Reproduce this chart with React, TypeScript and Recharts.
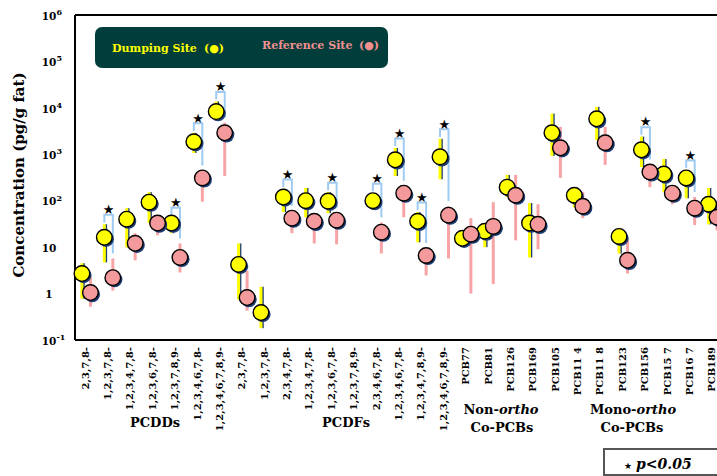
import { ComposedChart, Scatter, XAxis, YAxis, ErrorBar, ReferenceLine } from 'recharts'

const categories = [
  '2,3,7,8-', '1,2,3,7,8-', '1,2,3,4,7,8-', '1,2,3,6,7,8-', '1,2,3,7,8,9-', '1,2,3,4,6,7,8-', '1,2,3,4,6,7,8,9-',
  '2,3,7,8-', '1,2,3,7,8-', '2,3,4,7,8-', '1,2,3,4,7,8-', '1,2,3,6,7,8-', '1,2,3,7,8,9-', '2,3,4,6,7,8-',
  '1,2,3,4,6,7,8-', '1,2,3,4,7,8,9-', '1,2,3,4,6,7,8,9-',
  'PCB77', 'PCB81', 'PCB126', 'PCB169',
  'PCB105', 'PCB11 4', 'PCB11 8', 'PCB123', 'PCB156', 'PCB15 7', 'PCB16 7', 'PCB189'
]

// dumping site: mean and error range (pg/g fat)
const dumpingMean = [2.7, 16.3, 40, 93, 33, 1860, 8300, 4.25, 0.39, 120, 100, 98, null, 100, 760, 36, 880, 15.5, 22, 196, 33, 2900, 131, 5800, 17, 1250, 375, 310, 84]
const dumpingLow = [0.78, 4.7, 9.9, 33, 20, 1070, 6100, 0.74, 0.18, 57, 44, 54, null, 63, 340, 12.7, 290, 10, 10, 120, 6, 920, 72, 2000, 7.3, 530, 153, 113, 31]
const dumpingHigh = [4.5, 31, 69, 153, 44, 2900, 13700, 12, 1.4, 180, 188, 153, null, 145, 1370, 57, 2150, 22, 33, 360, 89, 7500, 188, 10500, 25, 2400, 790, 460, 188]

// reference site
const referenceMean = [1.05, 2.2, 12.1, 33, 6.0, 310, 2900, 0.82, null, 42, 36, 38, null, 21, 145, 6.6, 48.7, 19, 28, 131, 31, 1380, 76, 1770, 5.2, 415, 145, 69, 44]
const referenceLow = [0.52, 1.16, 5.2, 18, 2.85, 95, 340, 0.43, null, 20, 12, 11.5, null, 7.3, 44, 2.45, 5.7, 1.0, 1.6, 14, 9, 310, 42, 590, 2.7, 196, 84, 30, 23]
const referenceHigh = [2.33, 5.7, 20, 49, 12, 400, 4800, 3.1, null, 55, 50, 55, null, 34, 190, 9, 76, 42, 93, 360, 84, 3900, 153, 3900, 15, 550, 200, 120, 60]

// categories with p<0.05
const significant = [1, 4, 5, 6, 9, 11, 13, 14, 15, 16, 25, 27]

const yTicks = [0.1, 1, 10, 100, 1000, 10000, 100000, 1000000]
const yExp = ['-1', '', '', '2', '3', '4', '5', '6']

const SERIF = '"DejaVu Serif", serif'
const YELLOW = '#ffff00'
const PINK = '#f59a9c'
const PINK_BAR = '#f8a4a7'
const SHADOW = '#1f3d75'
const BRACKET = '#9fcbf3'
const SHIFT = 0.19

function points(mean: (number | null)[], low: (number | null)[], high: (number | null)[], dx: number) {
  return mean.flatMap((m, i) =>
    m == null ? [] : [{ x: i + dx, y: m, err: [m - (low[i] as number), (high[i] as number) - m] }]
  )
}

const dumpingPts = points(dumpingMean, dumpingLow, dumpingHigh, -SHIFT)
const dumpingShadowPts = points(dumpingMean, dumpingLow, dumpingHigh, -SHIFT + 0.08)
const referencePts = points(referenceMean, referenceLow, referenceHigh, SHIFT)

const brackets = significant.map((i) => {
  const top = (dumpingHigh[i] as number) * 1.6
  const left = (dumpingHigh[i] as number) * 1.1
  const right = Math.max(referenceHigh[i] as number, (referenceMean[i] as number) * 1.45) * 1.28
  return [
    { x: i - SHIFT, y: left },
    { x: i - SHIFT, y: top },
    { x: i + SHIFT, y: top },
    { x: i + SHIFT, y: right }
  ]
})
const stars = significant.map((i) => ({ x: i, y: (dumpingHigh[i] as number) * 1.6 * 1.3 }))

const None = () => <g />

const makeDot = (fill: string) => (props: any) => {
  const { cx, cy } = props
  return (
    <g>
      <circle cx={cx + 1.8} cy={cy + 1.8} r={7.8} fill={SHADOW} />
      <circle cx={cx} cy={cy} r={7.8} fill={fill} stroke="#000" strokeWidth={1.4} />
    </g>
  )
}

const Star = (props: any) => (
  <text x={props.cx} y={props.cy} textAnchor="middle" dominantBaseline="central" fontSize={13} fontFamily='"DejaVu Sans"'>
    ★
  </text>
)

const XTick = (props: any) => {
  const { x, y, payload } = props
  const tx = x + 2.5
  const ty = y - 1
  return (
    <text x={tx} y={ty} transform={`rotate(-90 ${tx} ${ty})`} textAnchor="end" fontFamily={SERIF} fontWeight="bold" fontSize={10} fill="#000">
      {categories[payload.value]}
    </text>
  )
}

const YTick = (props: any) => {
  const { x, y, payload } = props
  const idx = yTicks.indexOf(payload.value)
  const base = payload.value === 1 ? '1' : '10'
  return (
    <g fontFamily={SERIF} fontWeight="bold" fill="#000">
      <text x={x - 18} y={y + 1} dy="0.35em" textAnchor="middle" fontSize={10.5}>{base}</text>
      {yExp[idx] && (
        <text x={x - 10.5} y={y - 3} dy="0.35em" textAnchor="start" fontSize={8}>{yExp[idx]}</text>
      )}
    </g>
  )
}

export default function App() {
  return (
    <div style={{ position: 'absolute', left: 0, top: 0, width: 717, height: 476, overflow: 'hidden', background: '#fff' }}>
      <ComposedChart width={730} height={476} margin={{ top: 15, right: 6, bottom: 40, left: 9 }}>
        <XAxis
          type="number"
          dataKey="x"
          domain={[-0.5, 28.5]}
          ticks={categories.map((_, i) => i)}
          interval={0}
          tick={<XTick />}
          tickLine={false}
          axisLine={{ stroke: '#000', strokeWidth: 2 }}
          height={96}
        />
        <YAxis
          type="number"
          dataKey="y"
          scale="log"
          domain={[0.1, 1000000]}
          allowDataOverflow
          ticks={yTicks}
          interval={0}
          tick={<YTick />}
          tickLine={false}
          axisLine={{ stroke: '#000', strokeWidth: 2 }}
          width={66}
        />
        <ReferenceLine y={1000000} stroke="#000" strokeWidth={2} />
        {brackets.map((b, k) => (
          <Scatter
            key={'br' + k}
            data={b}
            dataKey="y"
            line={{ stroke: BRACKET, strokeWidth: 2 }}
            shape={None}
            isAnimationActive={false}
          />
        ))}
        <Scatter data={stars} dataKey="y" shape={Star} isAnimationActive={false} />
        <Scatter data={referencePts} dataKey="y" shape={None} isAnimationActive={false}>
          <ErrorBar dataKey="err" direction="y" width={0} stroke={PINK_BAR} strokeWidth={3} />
        </Scatter>
        <Scatter data={dumpingShadowPts} dataKey="y" shape={None} isAnimationActive={false}>
          <ErrorBar dataKey="err" direction="y" width={0} stroke={SHADOW} strokeWidth={2} />
        </Scatter>
        <Scatter data={dumpingPts} dataKey="y" shape={None} isAnimationActive={false}>
          <ErrorBar dataKey="err" direction="y" width={0} stroke={YELLOW} strokeWidth={3} />
        </Scatter>
        <Scatter data={dumpingPts} dataKey="y" shape={makeDot(YELLOW)} isAnimationActive={false} />
        <Scatter data={referencePts} dataKey="y" shape={makeDot(PINK)} isAnimationActive={false} />
      </ComposedChart>

      <svg width={717} height={476} style={{ position: 'absolute', left: 0, top: 0, pointerEvents: 'none' }}>
        <g fontFamily={SERIF} fontWeight="bold">
          <text x={24} y={175} transform="rotate(-90 24 175)" textAnchor="middle" fontSize={15} fill="#000">
            Concentration (pg/g fat)
          </text>

          <rect x={95} y={27} width={293} height={41} rx={7} fill="#003d3b" />
          <text x={112} y={52} fontSize={11} fill={YELLOW}>Dumping Site</text>
          <text x={204} y={52} fontSize={11} fill={YELLOW}>(●)</text>
          <text x={262} y={49} fontSize={11} fill="#f29090">Reference Site</text>
          <text x={359} y={49} fontSize={11} fill="#f29090">(●)</text>

          <text x={155} y={427} textAnchor="middle" fontSize={13} fill="#000">PCDDs</text>
          <text x={346} y={427} textAnchor="middle" fontSize={13} fill="#000">PCDFs</text>
          <text x={501} y={414} textAnchor="middle" fontSize={13} fill="#000">
            Non-<tspan fontStyle="italic">ortho</tspan>
          </text>
          <text x={502} y={432} textAnchor="middle" fontSize={13} fill="#000">Co-PCBs</text>
          <text x={633} y={414} textAnchor="middle" fontSize={13} fill="#000">
            Mono-<tspan fontStyle="italic">ortho</tspan>
          </text>
          <text x={632} y={432} textAnchor="middle" fontSize={13} fill="#000">Co-PCBs</text>

          <rect x={604} y={449} width={120} height={26} fill="#fff" stroke="#555" strokeWidth={2} />
          <text x={628} y={469} textAnchor="middle" fontSize={9} fontFamily='"DejaVu Sans"' fill="#000">★</text>
          <text x={636} y={469} fontSize={14} fontStyle="italic" fill="#000">p&lt;0.05</text>
        </g>
      </svg>
    </div>
  )
}
